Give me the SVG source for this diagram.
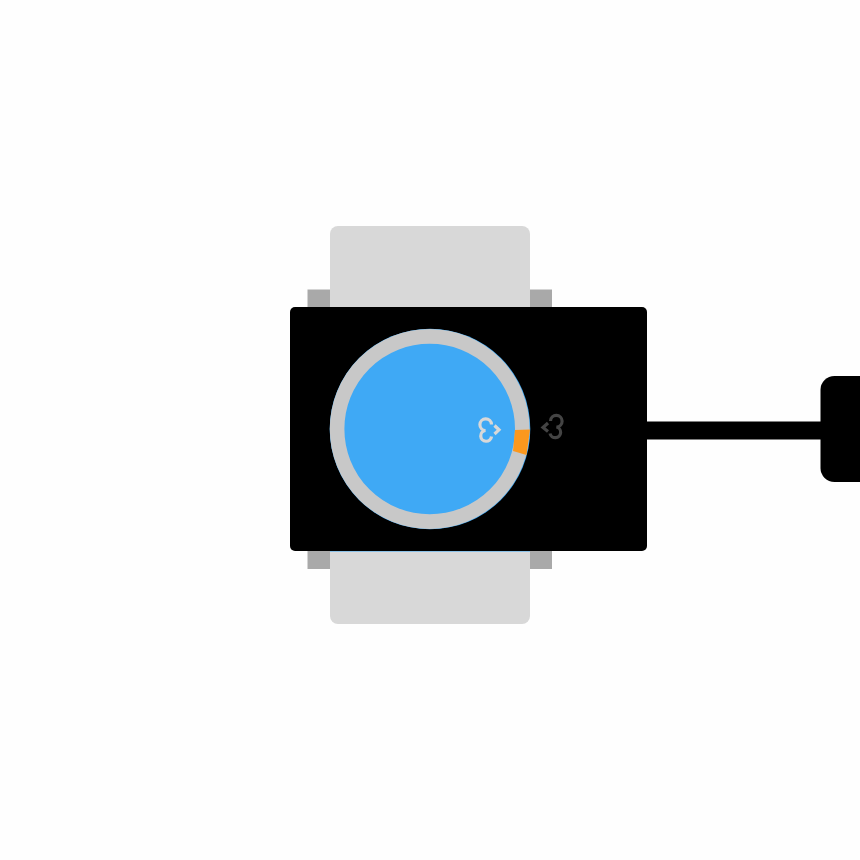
<svg xmlns="http://www.w3.org/2000/svg" width="860" height="860" viewBox="0 0 860 860">
<style>
.icon{fill:none;stroke-width:3.2;stroke-linecap:butt;stroke-linejoin:miter}
</style>
<rect width="860" height="860" fill="#fefefe"/>
<g id="watch-strap">
<rect x="330" y="226" width="200" height="398" rx="8" fill="#d8d8d8"/>
</g>
<g id="watch-lugs">
<rect x="307.500" y="289.500" width="22.500" height="279.500" fill="#a9a9a9"/>
<rect x="530" y="289.500" width="22" height="279.500" fill="#a9a9a9"/>
</g>
<g id="blue-edge"><rect x="330" y="400" width="200" height="151.500" fill="#3fa9f5"/></g>
<g id="connectors">
<rect x="640" y="421.500" width="190" height="18" fill="#000"/>
</g>
<g id="watch-body">
<rect x="290" y="307" width="357" height="244" rx="5" fill="#000"/>
</g>
<g id="plug">
<rect x="820.500" y="376" width="60" height="106" rx="14" fill="#000"/>
</g>
<g id="dial">
<circle cx="430" cy="429" r="100.300" fill="#3fa9f5"/>
<circle cx="429.700" cy="429" r="92.600" fill="none" stroke="#c8c8c8" stroke-width="14.600"/>
<polygon points="515,430 530,429.500 526.500,455 513,451" fill="#fb981e"/>
</g>
<g id="icon-light">
<path class="icon" stroke="#d8d8d8" d="M491.500 424.500A5.800 5.800 0 1 0 485.500 430.500A5.400 5.400 0 1 0 491.500 436.500M494.500 425.500L499 429.800L494.500 434"/>
</g>
<g id="icon-dark">
<path class="icon" stroke="#444444" d="M550.500 421A5.800 5.800 0 1 1 556.500 427A5.400 5.400 0 1 1 550 433.500M548 423L543 427.500L548 431.500"/>
</g>
</svg>
